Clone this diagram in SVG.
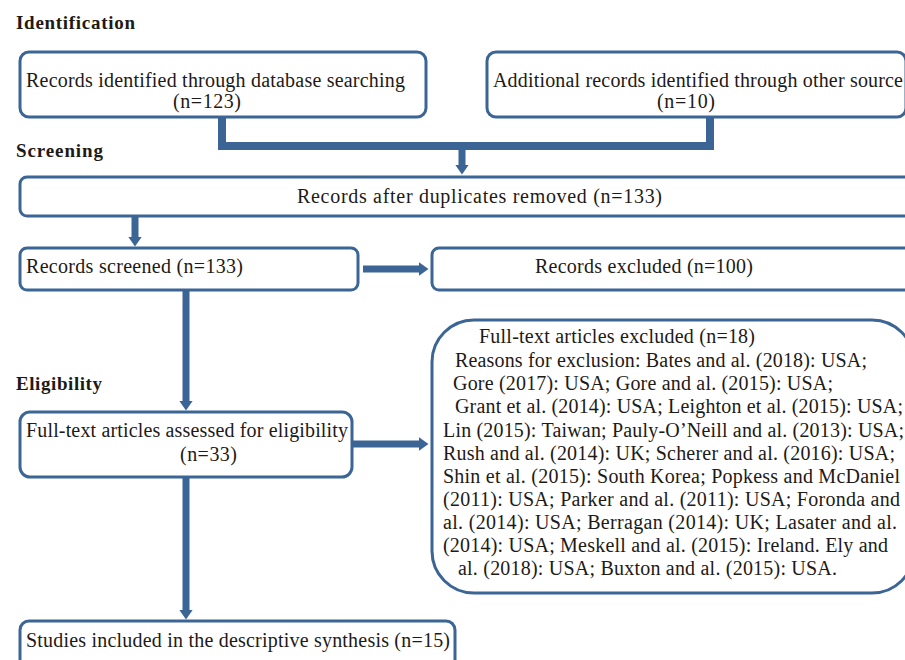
<svg xmlns="http://www.w3.org/2000/svg" width="905" height="660" viewBox="0 0 905 660">
<style>
.bg{fill:#ffffff}
.box{fill:#ffffff;stroke:#3b6595;stroke-width:3}
.t{font-family:"Liberation Serif","Times New Roman",serif;font-size:20px;fill:#1e1a16}
.h{font-family:"Liberation Serif","Times New Roman",serif;font-size:19px;font-weight:bold;fill:#1e1a16}
.c{fill:none;stroke:#3b6595;stroke-linejoin:miter}
.bar{stroke-width:8}
.ar{stroke-width:7;marker-end:url(#ah)}
</style>
<defs>
<marker id="ah" viewBox="0 0 10 14" refX="0.5" refY="7" markerWidth="10" markerHeight="14" markerUnits="userSpaceOnUse" orient="auto">
<path d="M0,0 L10,7 L0,14 z" fill="#3b6595"/>
</marker>
</defs>
<rect class="bg" x="0" y="0" width="905" height="660"/>
<g id="headings">
<text class="h" x="16" y="29" textLength="119" lengthAdjust="spacing">Identification</text>
<text class="h" x="16" y="157" textLength="87" lengthAdjust="spacing">Screening</text>
<text class="h" x="16" y="390" textLength="86" lengthAdjust="spacing">Eligibility</text>
</g>
<g id="connectors">
<polyline class="c bar" points="222,117 222,146 710,146 710,117"/>
<line class="c ar" x1="462" y1="150" x2="462" y2="165"/>
<line class="c ar" x1="135" y1="216" x2="135" y2="237"/>
<line class="c ar" x1="363" y1="269" x2="419" y2="269"/>
<line class="c ar" x1="186" y1="290" x2="186" y2="401"/>
<line class="c ar" x1="352" y1="444" x2="419" y2="444"/>
<line class="c ar" x1="186" y1="477" x2="186" y2="610"/>
</g>
<g id="n1">
<rect class="box" x="20" y="52" width="406" height="65" rx="9"/>
<text class="t" x="26" y="87" textLength="379" lengthAdjust="spacing">Records identified through database searching</text>
<text class="t" x="173" y="108" textLength="68" lengthAdjust="spacing">(n=123)</text>
</g>
<g id="n2">
<rect class="box" x="487" y="52" width="419" height="65" rx="9"/>
<text class="t" x="493" y="87" textLength="410" lengthAdjust="spacing">Additional records identified through other source</text>
<text class="t" x="657" y="108" textLength="58" lengthAdjust="spacing">(n=10)</text>
</g>
<g id="n3">
<rect class="box" x="20" y="177" width="900" height="39" rx="7"/>
<text class="t" x="297" y="203" textLength="365" lengthAdjust="spacing">Records after duplicates removed (n=133)</text>
</g>
<g id="n4">
<rect class="box" x="20" y="248" width="338" height="42" rx="7"/>
<text class="t" x="26" y="273" textLength="217" lengthAdjust="spacing">Records screened (n=133)</text>
</g>
<g id="n5">
<rect class="box" x="432" y="248" width="488" height="42" rx="7"/>
<text class="t" x="535" y="273" textLength="218" lengthAdjust="spacing">Records excluded (n=100)</text>
</g>
<g id="n6">
<rect class="box" x="20" y="412" width="332" height="65" rx="10"/>
<text class="t" x="26" y="437" textLength="322" lengthAdjust="spacing">Full-text articles assessed for eligibility</text>
<text class="t" x="180" y="461" textLength="57" lengthAdjust="spacing">(n=33)</text>
</g>
<g id="n7">
<rect class="box" x="432" y="320" width="482" height="273" rx="42"/>
<text class="t" x="479" y="343" textLength="276" lengthAdjust="spacing">Full-text articles excluded (n=18)</text>
<text class="t" x="455" y="367" textLength="412" lengthAdjust="spacing">Reasons for exclusion: Bates and al. (2018): USA;</text>
<text class="t" x="453" y="390" textLength="380" lengthAdjust="spacing">Gore (2017): USA; Gore and al. (2015): USA;</text>
<text class="t" x="455" y="413" textLength="448" lengthAdjust="spacing">Grant et al. (2014): USA; Leighton et al. (2015): USA;</text>
<text class="t" x="443" y="437" textLength="461" lengthAdjust="spacing">Lin (2015): Taiwan; Pauly-O’Neill and al. (2013): USA;</text>
<text class="t" x="443" y="460" textLength="452" lengthAdjust="spacing">Rush and al. (2014): UK; Scherer and al. (2016): USA;</text>
<text class="t" x="443" y="483" textLength="457" lengthAdjust="spacing">Shin et al. (2015): South Korea; Popkess and McDaniel</text>
<text class="t" x="443" y="506" textLength="457" lengthAdjust="spacing">(2011): USA; Parker and al. (2011): USA; Foronda and</text>
<text class="t" x="443" y="529" textLength="454" lengthAdjust="spacing">al. (2014): USA; Berragan (2014): UK; Lasater and al.</text>
<text class="t" x="443" y="552" textLength="445" lengthAdjust="spacing">(2014): USA; Meskell and al. (2015): Ireland. Ely and</text>
<text class="t" x="458" y="575" textLength="379" lengthAdjust="spacing">al. (2018): USA; Buxton and al. (2015): USA.</text>
</g>
<g id="n8">
<rect class="box" x="20" y="621" width="435" height="60" rx="9"/>
<text class="t" x="26" y="647" textLength="424" lengthAdjust="spacing">Studies included in the descriptive synthesis (n=15)</text>
</g>
</svg>
